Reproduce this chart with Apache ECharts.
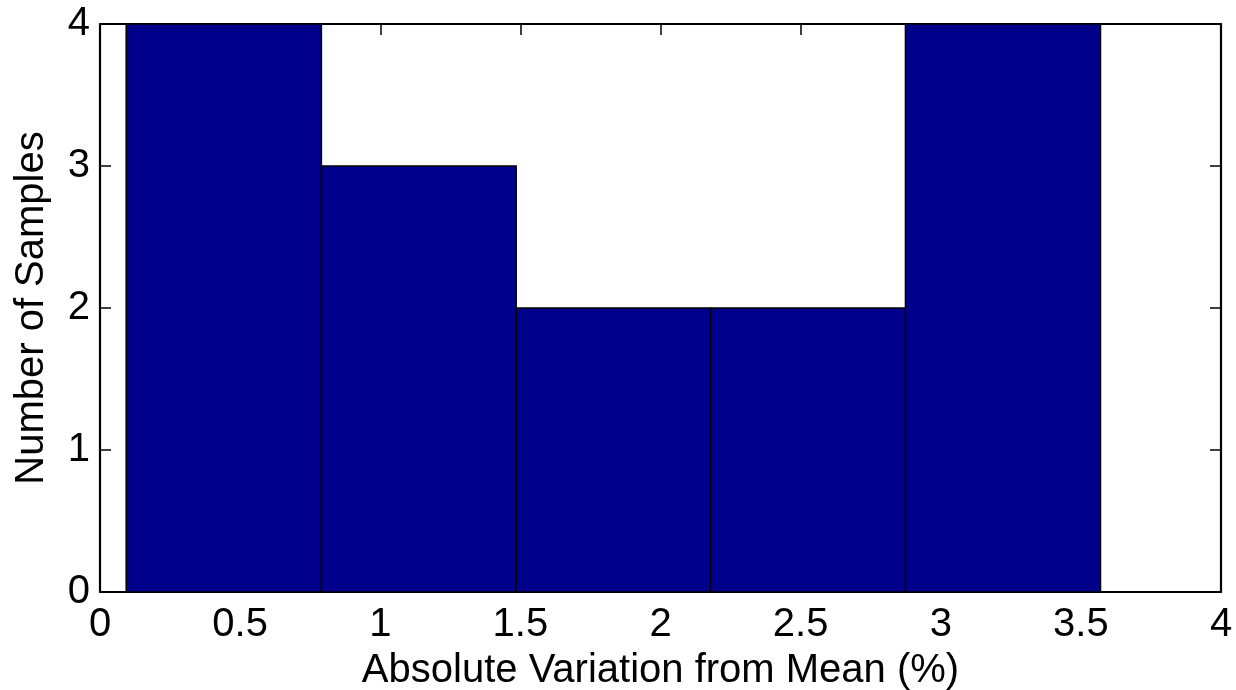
<!DOCTYPE html>
<html>
<head>
<meta charset="utf-8">
<script src="https://cdn.jsdelivr.net/npm/echarts@6/dist/echarts.min.js"></script>
<style>
  html, body { margin: 0; padding: 0; background: #fff; }
  #chart { width: 1236px; height: 690px; }
</style>
</head>
<body>
<div id="chart"></div>
<script>
// Histogram bin edges (percent) and counts per bin
const binEdges = [0.0935, 0.790, 1.485, 2.178, 2.874, 3.570];
const binCounts = [4, 3, 2, 2, 4];
const xTicks = [0, 0.5, 1, 1.5, 2, 2.5, 3, 3.5, 4];
const yTicks = [0, 1, 2, 3, 4];
const xTitle = 'Absolute Variation from Mean (%)';
const yTitle = 'Number of Samples';

const bins = binCounts.map((c, i) => [binEdges[i], binEdges[i + 1], c]);

const FONT = 'Liberation Sans, Arial, Helvetica, sans-serif';
const FS = 40;
const tickStyle = { show: true, inside: true, length: 11, lineStyle: { color: '#000', width: 1.5 } };
const lineStyle = { show: true, onZero: false, lineStyle: { color: '#000', width: 2.2 } };

const chart = echarts.init(document.getElementById('chart'), null, { renderer: 'canvas' });
chart.setOption({
  animation: false,
  backgroundColor: '#fff',
  grid: { left: 100, right: 15, top: 24, bottom: 98, containLabel: false, outerBoundsMode: 'none' },
  xAxis: [
    {
      type: 'value', position: 'bottom', min: xTicks[0], max: xTicks[xTicks.length - 1], interval: 0.5,
      axisLine: lineStyle, axisTick: tickStyle, splitLine: { show: false },
      axisLabel: { color: '#000', fontFamily: FONT, fontSize: FS, margin: 13,
        formatter: v => String(v) },
      name: xTitle, nameLocation: 'middle', nameGap: 59,
      nameTextStyle: { color: '#000', fontFamily: FONT, fontSize: FS }
    },
    {
      type: 'value', position: 'top', min: xTicks[0], max: xTicks[xTicks.length - 1], interval: 0.5,
      axisLine: lineStyle, axisTick: tickStyle, splitLine: { show: false },
      axisLabel: { show: false }
    }
  ],
  yAxis: [
    {
      type: 'value', position: 'left', min: yTicks[0], max: yTicks[yTicks.length - 1], interval: 1,
      axisLine: lineStyle, axisTick: tickStyle, splitLine: { show: false },
      axisLabel: { color: '#000', fontFamily: FONT, fontSize: FS, margin: 10 },
      name: yTitle, nameLocation: 'middle', nameGap: 48, nameRotate: 90,
      nameTextStyle: { color: '#000', fontFamily: FONT, fontSize: FS }
    },
    {
      type: 'value', position: 'right', min: yTicks[0], max: yTicks[yTicks.length - 1], interval: 1,
      axisLine: lineStyle, axisTick: tickStyle, splitLine: { show: false },
      axisLabel: { show: false }
    }
  ],
  series: [{
    type: 'custom',
    xAxisIndex: 0, yAxisIndex: 0,
    data: bins,
    encode: { x: [0, 1], y: 2 },
    renderItem: function (params, api) {
      const p0 = api.coord([api.value(0), api.value(2)]);
      const p1 = api.coord([api.value(1), 0]);
      return {
        type: 'rect',
        shape: { x: p0[0], y: p0[1], width: p1[0] - p0[0], height: p1[1] - p0[1] },
        style: { fill: '#00008C', stroke: '#000', lineWidth: 1.5 }
      };
    },
    z: 1
  }]
});
</script>
</body>
</html>
